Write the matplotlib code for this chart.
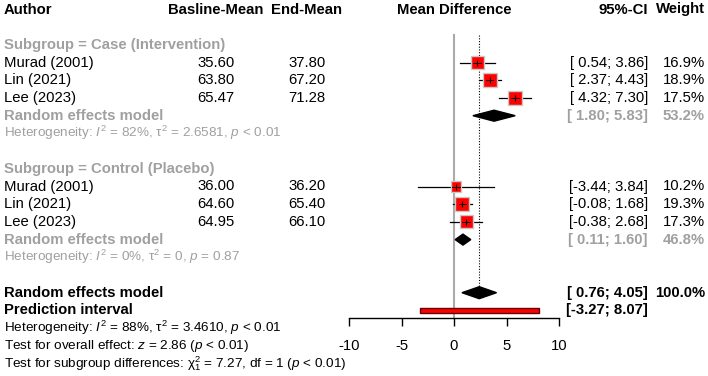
import numpy as np
import matplotlib
matplotlib.use('Agg')
import matplotlib.pyplot as plt
from matplotlib.patches import Rectangle

plt.rcParams['font.family'] = 'Liberation Sans'
plt.rcParams['mathtext.fontset'] = 'custom'
plt.rcParams['mathtext.rm'] = 'Liberation Sans'
plt.rcParams['mathtext.it'] = 'Liberation Sans:italic'
plt.rcParams['mathtext.bf'] = 'Liberation Sans:bold'

# Data
authors = ['Murad (2001)', 'Lin (2021)', 'Lee (2023)']

case_base = [35.60, 63.80, 65.47]
case_end = [37.80, 67.20, 71.28]
case_md = [2.20, 3.40, 5.81]
case_lo = [0.54, 2.37, 4.32]
case_hi = [3.86, 4.43, 7.30]
case_w = [16.9, 18.9, 17.5]
case_re = [3.815, 1.80, 5.83]
case_re_w = 53.2
case_het = r'Heterogeneity: $I^2$ = 82%, $\mathrm{\tau}^2$ = 2.6581, $p$ < 0.01'

ctrl_base = [36.00, 64.60, 64.95]
ctrl_end = [36.20, 65.40, 66.10]
ctrl_md = [0.20, 0.80, 1.15]
ctrl_lo = [-3.44, -0.08, -0.38]
ctrl_hi = [3.84, 1.68, 2.68]
ctrl_w = [10.2, 19.3, 17.3]
ctrl_re = [0.855, 0.11, 1.60]
ctrl_re_w = 46.8
ctrl_het = r'Heterogeneity: $I^2$ = 0%, $\mathrm{\tau}^2$ = 0, $p$ = 0.87'

overall_re = [2.405, 0.76, 4.05]
pred_int = [-3.27, 8.07]
ticks = [-10, -5, 0, 5, 10]

footer = [
    r'Heterogeneity: $I^2$ = 88%, $\mathrm{\tau}^2$ = 3.4610, $p$ < 0.01',
    r'Test for overall effect: $z$ = 2.86 ($p$ < 0.01)',
    r'Test for subgroup differences: $\mathrm{\chi}^2_1$ = 7.27, df = 1 ($p$ < 0.01)',
]

# Layout (pixels)
W, H = 708, 376
GRAY = '#a0a0a0'
FS = 10.7
FS_SMALL = 9.7
PX_PER_UNIT = 10.5


def row_y(i):
    return 9.5 + 17.7 * i


def ci_text(lo, hi):
    return f'[{lo:5.2f}; {hi:.2f}]'


fig = plt.figure(figsize=(W / 100, H / 100), dpi=100)
ax = fig.add_axes([0, 0, 1, 1])
ax.set_xlim(0, W)
ax.set_ylim(H, 0)
ax.axis('off')

# forest axes: x in effect units, y in pixels
axis_y = 318
fax = fig.add_axes([349 / W, (H - axis_y) / H, 210 / W, axis_y / H])
fax.set_xlim(-10, 10)
fax.set_ylim(axis_y, 0)
fax.patch.set_visible(False)
for s in ['top', 'left', 'right']:
    fax.spines[s].set_visible(False)
fax.spines['bottom'].set_linewidth(1.0)
fax.set_yticks([])
fax.set_xticks(ticks)
fax.set_xticklabels([str(t) for t in ticks])
fax.tick_params(axis='x', length=6, width=1.0, pad=9, labelsize=FS)

# headers
y0 = row_y(0)
ax.text(4, y0, 'Author', fontsize=FS, fontweight='bold', va='center')
ax.text(216, y0, 'Basline-Mean', fontsize=FS, fontweight='bold', va='center', ha='center')
ax.text(307, y0, 'End-Mean', fontsize=FS, fontweight='bold', va='center', ha='center')
ax.text(454, y0, 'Mean Difference', fontsize=FS, fontweight='bold', va='center', ha='center')
ax.text(648, y0, '95%-CI', fontsize=FS, fontweight='bold', va='center', ha='right')
ax.text(705, y0, 'Weight', fontsize=FS, fontweight='bold', va='center', ha='right')

# reference lines
fax.plot([0, 0], [35, axis_y], color='#aaaaaa', lw=1.5, zorder=1, clip_on=False)
fax.plot([overall_re[0]] * 2, [35, row_y(16)], color='black', lw=0.8,
         ls=(0, (1, 1.5)), zorder=1, clip_on=False)


def diamond(est, lo, hi, y, h=5.5):
    fax.fill([lo, est, hi, est], [y, y - h, y, y + h], color='black', zorder=4, clip_on=False)


def subgroup(start, title, base, end, md, lo, hi, w, re, re_w, het):
    ax.text(4, row_y(start), title, fontsize=FS, fontweight='bold', color=GRAY, va='center')
    for k in range(len(authors)):
        y = row_y(start + 1 + k)
        ax.text(4, y, authors[k], fontsize=FS, va='center')
        ax.text(216, y, f'{base[k]:.2f}', fontsize=FS, va='center', ha='center')
        ax.text(307, y, f'{end[k]:.2f}', fontsize=FS, va='center', ha='center')
        ax.text(648, y, ci_text(lo[k], hi[k]), fontsize=FS, va='center', ha='right')
        ax.text(705, y, f'{w[k]:.1f}%', fontsize=FS, va='center', ha='right')
        fax.plot([lo[k], hi[k]], [y, y], color='black', lw=0.9, zorder=2, clip_on=False)
        side = 3.15 * np.sqrt(w[k])
        fax.add_patch(Rectangle((md[k] - side / PX_PER_UNIT / 2, y - side / 2),
                                side / PX_PER_UNIT, side, facecolor='red',
                                edgecolor='#c8c8c8', lw=1.0, zorder=3, clip_on=False))
        fax.plot([md[k]], [y], marker='|', ms=5, color='black', mew=0.8, zorder=4, clip_on=False)
        fax.plot([md[k] - 0.35, md[k] + 0.35], [y, y], color='black', lw=0.7, zorder=4, clip_on=False)
    y = row_y(start + 4)
    ax.text(4, y, 'Random effects model', fontsize=FS, fontweight='bold', color=GRAY, va='center')
    ax.text(648, y, ci_text(re[1], re[2]), fontsize=FS, fontweight='bold', color=GRAY, va='center', ha='right')
    ax.text(705, y, f'{re_w:.1f}%', fontsize=FS, fontweight='bold', color=GRAY, va='center', ha='right')
    diamond(re[0], re[1], re[2], y)
    ax.text(4, row_y(start + 5), het, fontsize=FS_SMALL, color=GRAY, va='center')


subgroup(2, 'Subgroup = Case (Intervention)', case_base, case_end, case_md,
         case_lo, case_hi, case_w, case_re, case_re_w, case_het)
subgroup(9, 'Subgroup = Control (Placebo)', ctrl_base, ctrl_end, ctrl_md,
         ctrl_lo, ctrl_hi, ctrl_w, ctrl_re, ctrl_re_w, ctrl_het)

# overall
y = row_y(16)
ax.text(4, y, 'Random effects model', fontsize=FS, fontweight='bold', va='center')
ax.text(648, y, ci_text(overall_re[1], overall_re[2]), fontsize=FS, fontweight='bold', va='center', ha='right')
ax.text(705, y, '100.0%', fontsize=FS, fontweight='bold', va='center', ha='right')
diamond(overall_re[0], overall_re[1], overall_re[2], y, h=6)

y = row_y(17)
ax.text(4, y, 'Prediction interval', fontsize=FS, fontweight='bold', va='center')
ax.text(648, y, ci_text(pred_int[0], pred_int[1]), fontsize=FS, fontweight='bold', va='center', ha='right')
fax.add_patch(Rectangle((pred_int[0], y - 2.3), pred_int[1] - pred_int[0], 4.6,
                        facecolor='red', edgecolor='#600000', lw=1.0, zorder=4, clip_on=False))

for k, line in enumerate(footer):
    ax.text(4, row_y(18 + k), line, fontsize=FS_SMALL, va='center')

fig.savefig('out.png', dpi=100)
